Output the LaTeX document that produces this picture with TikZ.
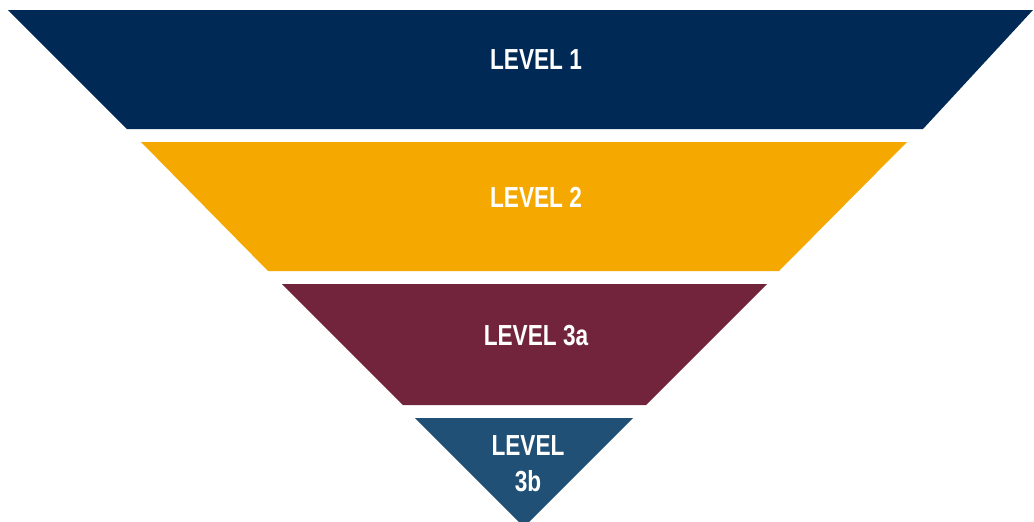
\documentclass[tikz,border=0pt]{standalone}
\usepackage{fontspec}
\setmainfont[FakeStretch=0.78]{Liberation Sans}
\definecolor{navy}{HTML}{002A55}
\definecolor{gold}{HTML}{F5A900}
\definecolor{maroon}{HTML}{72243C}
\definecolor{steel}{HTML}{215076}
\begin{document}
\begin{tikzpicture}[x=1pt,y=-1pt,
  lbl/.style={text=white,font=\bfseries\fontsize{29}{33}\selectfont,anchor=base,inner sep=0pt}]
\useasboundingbox (0,0) rectangle (1034,522);
\fill[navy] (8,10) -- (1033,10) -- (923,129) -- (127,129) -- cycle;
\fill[gold] (141,142) -- (907,142) -- (779,271) -- (268,271) -- cycle;
\fill[maroon] (282,284) -- (767,284) -- (646,405) -- (403,405) -- cycle;
\fill[steel] (415,418) -- (633,418) -- (529,522) -- (519,522) -- cycle;
\node[lbl] (l1) at (536,69) {LEVEL 1};
\node[lbl] (l2) at (536,207) {LEVEL 2};
\node[lbl] (l3a) at (536,345) {LEVEL 3a};
\node[lbl] (l3b1) at (528,455) {LEVEL};
\node[lbl] (l3b2) at (528,491) {3b};
\end{tikzpicture}
\end{document}
